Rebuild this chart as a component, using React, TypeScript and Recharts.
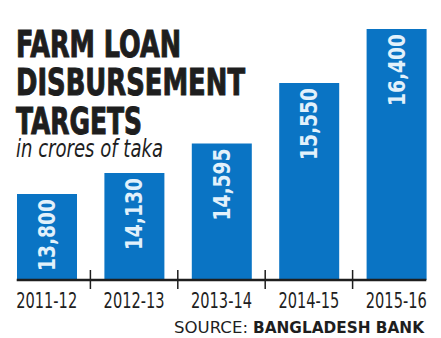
import { Bar, BarChart, LabelList, XAxis, YAxis } from "recharts";

const categories = ["2011-12", "2012-13", "2013-14", "2014-15", "2015-16"];
const targets = [13800, 14130, 14595, 15550, 16400];
const titleLines = ["FARM LOAN", "DISBURSEMENT", "TARGETS"];
const subtitle = "in crores of taka";
const sourceLabel = "SOURCE:";
const sourceName = "BANGLADESH BANK";

const data = categories.map((year, i) => ({ year, target: targets[i] }));

const WIDTH = 441;
const HEIGHT = 338;
const MARGIN = { top: 29, right: 1, left: 3, bottom: 0 };
const BAR_SIZE = 60;
const BAND = (WIDTH - MARGIN.left - MARGIN.right) / categories.length;
const BLUE = "#0a74c4";
const INK = "#1e1e1e";
const NARROW = "'Liberation Sans Narrow', 'DejaVu Sans Condensed', sans-serif";
const HEAVY = "'DejaVu Sans Condensed', 'Liberation Sans Narrow', sans-serif";

// axis line runs from first bar's left edge to last bar's right edge, ticks sit between bars
function YearTick(props: any) {
  const { x, y, payload, index } = props;
  const last = index === categories.length - 1;
  const left = index === 0 ? x - BAR_SIZE / 2 : x - BAND / 2;
  const right = last ? x + BAR_SIZE / 2 : x + BAND / 2;
  return (
    <g>
      <line x1={left} x2={right} y1={y} y2={y} stroke={INK} strokeWidth={2.5} />
      {!last ? (
        <line x1={x + BAND / 2} x2={x + BAND / 2} y1={y - 10} y2={y + 9} stroke={INK} strokeWidth={1.5} />
      ) : null}
      <text
        x={x}
        y={y + 28}
        textAnchor="middle"
        fontFamily={NARROW}
        fontSize={21}
        fill={INK}
        textLength={61}
        lengthAdjust="spacingAndGlyphs"
      >
        {payload.value}
      </text>
    </g>
  );
}

function ValueLabel(props: any) {
  const { x, y, width, value } = props;
  const cx = x + width / 2;
  const top = y + 5;
  return (
    <text
      x={cx}
      y={top}
      transform={`rotate(-90 ${cx} ${top})`}
      textAnchor="end"
      dominantBaseline="central"
      fontFamily={NARROW}
      fontWeight="bold"
      fontSize={23}
      fill="#e2f1fb"
      textLength={72}
      lengthAdjust="spacingAndGlyphs"
    >
      {Number(value).toLocaleString("en-US")}
    </text>
  );
}

export default function App() {
  const titleBaselines = [57, 95, 134];
  const titleWidths = [165, 229, 126];
  return (
    <div style={{ position: "fixed", left: 0, top: 0, width: WIDTH, height: HEIGHT, background: "#fff" }}>
      <BarChart width={WIDTH} height={HEIGHT} data={data} margin={MARGIN}>
        <YAxis hide domain={[12446, 16400]} allowDataOverflow />
        <XAxis
          dataKey="year"
          height={58}
          axisLine={false}
          tickLine={false}
          tickSize={0}
          tickMargin={0}
          interval={0}
          tick={<YearTick />}
        />
        <Bar dataKey="target" fill={BLUE} barSize={BAR_SIZE} isAnimationActive={false}>
          <LabelList dataKey="target" content={<ValueLabel />} />
        </Bar>
      </BarChart>
      <svg
        width={WIDTH}
        height={HEIGHT}
        style={{ position: "absolute", left: 0, top: 0, pointerEvents: "none" }}
      >
        {titleLines.map((line, i) => (
          <text
            key={line}
            x={16}
            y={titleBaselines[i]}
            fontFamily={HEAVY}
            fontWeight="bold"
            fontSize={37}
            fill={INK}
            stroke={INK}
            strokeWidth={1}
            textLength={titleWidths[i]}
            lengthAdjust="spacingAndGlyphs"
          >
            {line}
          </text>
        ))}
        <text
          x={16}
          y={157}
          fontFamily={NARROW}
          fontStyle="italic"
          fontSize={25}
          fill={INK}
          textLength={147}
          lengthAdjust="spacingAndGlyphs"
        >
          {subtitle}
        </text>
        <text
          x={174}
          y={333}
          fontFamily="'DejaVu Sans', sans-serif"
          fontSize={15}
          fill={INK}
          textLength={74}
          lengthAdjust="spacingAndGlyphs"
        >
          {sourceLabel}
        </text>
        <text
          x={253}
          y={333}
          fontFamily="'DejaVu Sans', sans-serif"
          fontWeight="bold"
          fontSize={15}
          fill={INK}
          textLength={171}
          lengthAdjust="spacingAndGlyphs"
        >
          {sourceName}
        </text>
      </svg>
    </div>
  );
}
